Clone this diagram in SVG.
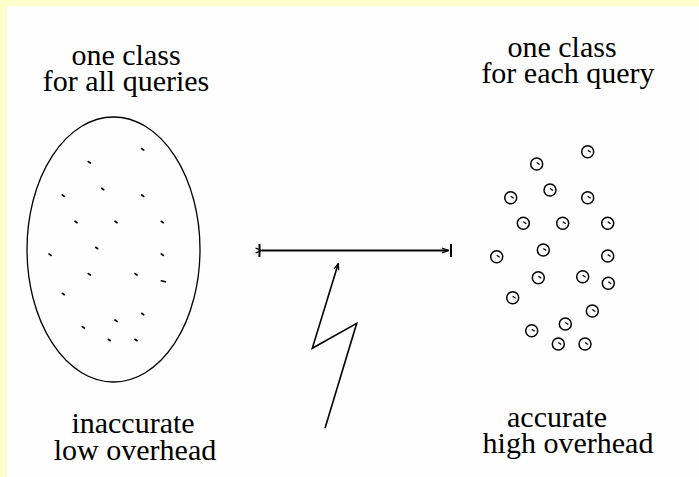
<svg xmlns="http://www.w3.org/2000/svg" width="699" height="477" viewBox="0 0 699 477">
  <defs>
    <style>
      text { font-family: 'Liberation Serif', 'Times New Roman', 'DejaVu Serif', serif; font-size: 30px; fill: #000; text-anchor: middle; }
      .dot { stroke: #000; stroke-width: 1.7; stroke-linecap: round; }
      .c { fill: none; stroke: #000; stroke-width: 1.5; }
      .tick { stroke: #000; stroke-width: 1.3; }
      .ln { fill: none; stroke: #000; }
    </style>
    <marker id="ah" viewBox="0 0 10 10" refX="9" refY="5" markerWidth="8" markerHeight="8" orient="auto" markerUnits="userSpaceOnUse">
      <path d="M1,2 L9,5 L1,8" fill="none" stroke="#000" stroke-width="1.5"/>
    </marker>
    <g id="sc">
      <circle r="6" class="c"/>
      <line x1="0" y1="-1.5" x2="3" y2="0.5" class="tick"/>
    </g>
  </defs>

  <rect x="0" y="0" width="699" height="477" fill="#FFFFCC"/>
  <rect x="7" y="6" width="692" height="471" fill="#FEFEFE"/>

  <g id="label-top-left">
    <text><tspan x="126" y="65">one class</tspan><tspan x="126" y="91">for all queries</tspan></text>
  </g>
  <g id="label-top-right">
    <text><tspan x="562" y="57">one class</tspan><tspan x="568" y="83">for each query</tspan></text>
  </g>
  <g id="label-bottom-left">
    <text><tspan x="133" y="433">inaccurate</tspan><tspan x="135" y="460">low overhead</tspan></text>
  </g>
  <g id="label-bottom-right">
    <text><tspan x="557" y="427">accurate</tspan><tspan x="568" y="453">high overhead</tspan></text>
  </g>

  <g id="one-class">
    <ellipse cx="113.5" cy="249.5" rx="86.5" ry="132.5" fill="none" stroke="#000" stroke-width="1.3"/>
    <g class="dot">
      <line x1="141.7" y1="148.6" x2="143.7" y2="150"/>
      <line x1="88.3" y1="161.6" x2="90.3" y2="163"/>
      <line x1="101.7" y1="188.3" x2="103.7" y2="189.7"/>
      <line x1="62.3" y1="195" x2="64.3" y2="196.4"/>
      <line x1="141.7" y1="195" x2="143.7" y2="196.4"/>
      <line x1="75" y1="221.3" x2="77" y2="222.7"/>
      <line x1="115" y1="221.3" x2="117" y2="222.7"/>
      <line x1="161.3" y1="221.3" x2="163.3" y2="222.7"/>
      <line x1="95.7" y1="247.3" x2="97.7" y2="248.7"/>
      <line x1="49" y1="254" x2="51" y2="255.4"/>
      <line x1="161.3" y1="254" x2="163.3" y2="255.4"/>
      <line x1="88.3" y1="273.6" x2="90.3" y2="275"/>
      <line x1="135" y1="273.6" x2="137" y2="275"/>
      <line x1="161.3" y1="280.8" x2="165.3" y2="281.8"/>
      <line x1="62.3" y1="293.3" x2="64.3" y2="294.7"/>
      <line x1="141.7" y1="313.3" x2="143.7" y2="314.7"/>
      <line x1="115" y1="320" x2="117" y2="321.4"/>
      <line x1="82.3" y1="326.6" x2="84.3" y2="328"/>
      <line x1="108.3" y1="339.3" x2="110.3" y2="340.7"/>
      <line x1="135" y1="339.3" x2="137" y2="340.7"/>
    </g>
  </g>

  <g id="each-query">
    <use href="#sc" x="587.7" y="151.7"/>
    <use href="#sc" x="536.7" y="164"/>
    <use href="#sc" x="550" y="190"/>
    <use href="#sc" x="510.7" y="197.7"/>
    <use href="#sc" x="587.7" y="197.7"/>
    <use href="#sc" x="523.3" y="223.3"/>
    <use href="#sc" x="562.7" y="223.3"/>
    <use href="#sc" x="607.7" y="223.3"/>
    <use href="#sc" x="543.3" y="250"/>
    <use href="#sc" x="496.7" y="256.7"/>
    <use href="#sc" x="607.7" y="256"/>
    <use href="#sc" x="538.3" y="277.7"/>
    <use href="#sc" x="582.7" y="276.7"/>
    <use href="#sc" x="608.3" y="283.3"/>
    <use href="#sc" x="512.7" y="297.7"/>
    <use href="#sc" x="592.3" y="311"/>
    <use href="#sc" x="565.3" y="324"/>
    <use href="#sc" x="531.7" y="330.7"/>
    <use href="#sc" x="558.3" y="344"/>
    <use href="#sc" x="585" y="344"/>
  </g>

  <g id="connectors">
    <line class="ln" x1="259.5" y1="244" x2="259.5" y2="257" stroke-width="2"/>
    <line class="ln" x1="451" y1="244" x2="451" y2="257" stroke-width="2"/>
    <line class="ln" x1="262" y1="250.5" x2="448.5" y2="250.5" stroke-width="2" marker-start="url(#ah)" marker-end="url(#ah)"/>
    <polyline class="ln" points="325,428.3 356.7,323.3 312.3,348.3 338.3,263.5" stroke-width="1.6" stroke-linejoin="miter" marker-end="url(#ah)"/>
  </g>
</svg>
